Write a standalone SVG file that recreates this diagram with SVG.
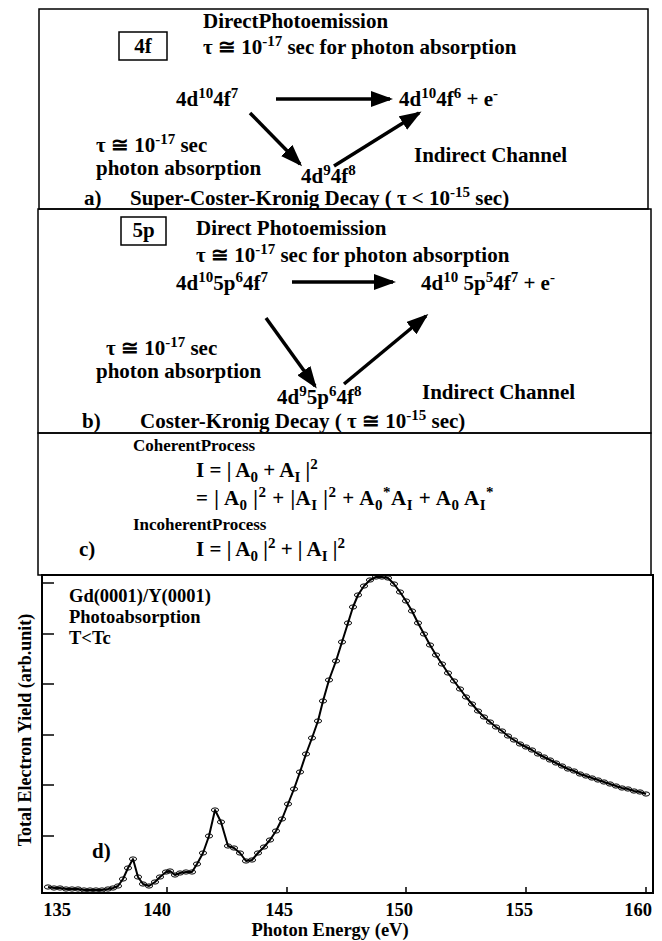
<svg xmlns="http://www.w3.org/2000/svg" width="662" height="941" viewBox="0 0 662 941">
<style>
.t{font-family:"Liberation Serif","Times New Roman",serif;font-weight:bold;font-size:21px;fill:#000}
.s{font-size:15px}
.m{font-size:17px}
.p{font-size:18.5px}
.box{fill:none;stroke:#000;stroke-width:1.5}
.arr{stroke:#000;stroke-width:3.5;fill:none;marker-end:url(#ah)}
.ax{stroke:#000;stroke-width:2;fill:none}
.tk{stroke:#000;stroke-width:1.5}
</style>
<defs>
<marker id="ah" markerUnits="userSpaceOnUse" markerWidth="22" markerHeight="16" refX="19" refY="8" orient="auto"><path d="M0,0 L22,8 L0,16 z" fill="#000"/></marker>
<marker id="dot" markerUnits="userSpaceOnUse" markerWidth="10" markerHeight="6" refX="5" refY="3"><ellipse cx="5" cy="3" rx="3.6" ry="2.1" fill="none" stroke="#000" stroke-width="1"/></marker>
</defs>
<rect width="662" height="941" fill="#fff"/>

<g id="panel-a">
<rect class="box" x="39" y="9" width="609" height="200"/>
<g id="a-label-box"><rect class="box" x="119" y="32" width="48" height="28"/><text class="t" x="143" y="53" text-anchor="middle">4f</text></g>
<text class="t" x="203" y="28">DirectPhotoemission</text>
<text class="t" x="203" y="54">τ ≅ 10<tspan dy="-8" class="s">-17</tspan><tspan dy="8"> sec for photon absorption</tspan></text>
<g id="a-n1"><text class="t" x="176" y="106">4d<tspan dy="-8" class="s">10</tspan><tspan dy="8">4f</tspan><tspan dy="-8" class="s">7</tspan></text></g>
<g id="a-n2"><text class="t" x="399" y="106">4d<tspan dy="-8" class="s">10</tspan><tspan dy="8">4f</tspan><tspan dy="-8" class="s">6</tspan><tspan dy="8"> + e</tspan><tspan dy="-8" class="s">-</tspan></text></g>
<g id="a-n3"><text class="t" x="301" y="183">4d<tspan dy="-8" class="s">9</tspan><tspan dy="8">4f</tspan><tspan dy="-8" class="s">8</tspan></text></g>
<text class="t" x="96" y="152">τ ≅ 10<tspan dy="-8" class="s">-17</tspan><tspan dy="8"> sec</tspan></text>
<text class="t" x="96" y="175">photon absorption</text>
<text class="t" x="414" y="162">Indirect Channel</text>
<text class="t" x="84" y="205">a)<tspan x="130">Super-Coster-Kronig Decay ( τ &lt; 10</tspan><tspan dy="-8" class="s">-15</tspan><tspan dy="8"> sec)</tspan></text>
</g>

<g id="panel-b">
<rect class="box" x="38" y="209" width="613" height="224"/>
<g id="b-label-box"><rect class="box" x="121" y="217" width="45" height="28"/><text class="t" x="143.5" y="237" text-anchor="middle">5p</text></g>
<text class="t" x="196" y="235">Direct Photoemission</text>
<text class="t" x="196" y="262">τ ≅ 10<tspan dy="-8" class="s">-17</tspan><tspan dy="8"> sec for photon absorption</tspan></text>
<g id="b-n1"><text class="t" x="176" y="290">4d<tspan dy="-8" class="s">10</tspan><tspan dy="8">5p</tspan><tspan dy="-8" class="s">6</tspan><tspan dy="8">4f</tspan><tspan dy="-8" class="s">7</tspan></text></g>
<g id="b-n2"><text class="t" x="421" y="290">4d<tspan dy="-8" class="s">10</tspan><tspan dy="8"> 5p</tspan><tspan dy="-8" class="s">5</tspan><tspan dy="8">4f</tspan><tspan dy="-8" class="s">7</tspan><tspan dy="8"> + e</tspan><tspan dy="-8" class="s">-</tspan></text></g>
<g id="b-n3"><text class="t" x="277" y="404">4d<tspan dy="-8" class="s">9</tspan><tspan dy="8">5p</tspan><tspan dy="-8" class="s">6</tspan><tspan dy="8">4f</tspan><tspan dy="-8" class="s">8</tspan></text></g>
<text class="t" x="106" y="355">τ ≅ 10<tspan dy="-8" class="s">-17</tspan><tspan dy="8"> sec</tspan></text>
<text class="t" x="96" y="378">photon absorption</text>
<text class="t" x="422" y="399">Indirect Channel</text>
<text class="t" x="82" y="428">b)<tspan x="140">Coster-Kronig Decay ( τ ≅ 10</tspan><tspan dy="-8" class="s">-15</tspan><tspan dy="8"> sec)</tspan></text>
</g>

<g id="connectors">
<line class="arr" x1="276" y1="99" x2="390" y2="99"/>
<line class="arr" x1="250" y1="113" x2="300" y2="164"/>
<line class="arr" x1="334" y1="166" x2="419" y2="113"/>
<line class="arr" x1="292" y1="282" x2="393" y2="282"/>
<line class="arr" x1="266" y1="318" x2="315" y2="386"/>
<line class="arr" x1="344" y1="384" x2="426" y2="316"/>
</g>

<g id="panel-c">
<rect class="box" x="38" y="433" width="613" height="142"/>
<text class="t m" x="133" y="451">CoherentProcess</text>
<text class="t" x="196" y="477">I = | A<tspan dy="5" class="s">0</tspan><tspan dy="-5"> + A</tspan><tspan dy="5" class="s">I</tspan><tspan dy="-5"> |</tspan><tspan dy="-8" class="s">2</tspan></text>
<text class="t" x="196" y="505" letter-spacing="0.5">= | A<tspan dy="5" class="s">0</tspan><tspan dy="-5"> |</tspan><tspan dy="-8" class="s">2</tspan><tspan dy="8"> + |A</tspan><tspan dy="5" class="s">I</tspan><tspan dy="-5"> |</tspan><tspan dy="-8" class="s">2</tspan><tspan dy="8"> + A</tspan><tspan dy="5" class="s">0</tspan><tspan dy="-13" class="s">*</tspan><tspan dy="8">A</tspan><tspan dy="5" class="s">I</tspan><tspan dy="-5"> + A</tspan><tspan dy="5" class="s">0</tspan><tspan dy="-5"> A</tspan><tspan dy="5" class="s">I</tspan><tspan dy="-13" class="s">*</tspan></text>
<text class="t m" x="133" y="530">IncoherentProcess</text>
<text class="t" x="79" y="556">c)</text>
<text class="t" x="196" y="556">I = | A<tspan dy="5" class="s">0</tspan><tspan dy="-5"> |</tspan><tspan dy="-8" class="s">2</tspan><tspan dy="8">  +  | A</tspan><tspan dy="5" class="s">I</tspan><tspan dy="-5"> |</tspan><tspan dy="-8" class="s">2</tspan></text>
</g>

<g id="panel-d">
<path class="ax" d="M42,575 L653,575 L653,893 L42,893 Z"/>
<g class="tk">
<line x1="42" y1="583" x2="54" y2="583"/>
<line x1="42" y1="634" x2="54" y2="634"/>
<line x1="42" y1="684" x2="54" y2="684"/>
<line x1="42" y1="735" x2="54" y2="735"/>
<line x1="42" y1="785" x2="54" y2="785"/>
<line x1="42" y1="836" x2="54" y2="836"/>
<line x1="167" y1="893" x2="167" y2="887"/>
<line x1="287" y1="893" x2="287" y2="887"/>
<line x1="406" y1="893" x2="406" y2="887"/>
<line x1="526" y1="893" x2="526" y2="887"/>
<line x1="646" y1="893" x2="646" y2="887"/>
</g>
<text class="t p" x="57" y="916" text-anchor="middle">135</text>
<text class="t p" x="157" y="916" text-anchor="middle">140</text>
<text class="t p" x="279" y="916" text-anchor="middle">145</text>
<text class="t p" x="399" y="916" text-anchor="middle">150</text>
<text class="t p" x="519" y="916" text-anchor="middle">155</text>
<text class="t p" x="638" y="916" text-anchor="middle">160</text>
<text class="t p" x="330" y="936" text-anchor="middle">Photon Energy (eV)</text>
<text class="t" style="font-size:18px" transform="translate(31,730) rotate(-90)" text-anchor="middle">Total Electron Yield (arb.unit)</text>
<text class="t p" x="69" y="602">Gd(0001)/Y(0001)</text>
<text class="t p" x="69" y="623">Photoabsorption</text>
<text class="t p" x="69" y="644">T&lt;Tc</text>
<text class="t" x="92" y="858">d)</text>
<polyline fill="none" stroke="#000" stroke-width="2" stroke-linejoin="round" marker-start="url(#dot)" marker-mid="url(#dot)" marker-end="url(#dot)" points="48,887 54,888 60,888 66,889 72,889 78,889 84,890 90,890 96,890 102,890 108,889 113,888 118,886 123,879 128,868 133,859 138,877 143,884 149,886 155,882 160,877 166,872 170,871 175,875 180,873 186,872 192,872 197,864 203,853 209,836 215,810 221,822 228,846 234,848 240,853 246,861 252,860 258,853 264,847 270,840 276,831 282,819 288,804 294,789 300,772 306,754 312,738 318,721 323,701 329,680 336,661 342,642 348,623 353,607 358,595 364,586 370,580 376,577 382,577 388,578 394,584 400,592 406,601 412,611 418,623 424,634 430,645 436,655 442,664 448,673 454,681 460,689 466,697 472,704 478,711 484,717 490,722 496,727 502,731 508,736 514,740 520,744 526,747 532,750 538,754 544,757 550,760 556,763 562,766 568,769 574,771 580,774 586,776 592,778 598,780 604,782 610,784 616,786 622,788 628,789 634,791 640,792 646,794"/>
</g>
</svg>
